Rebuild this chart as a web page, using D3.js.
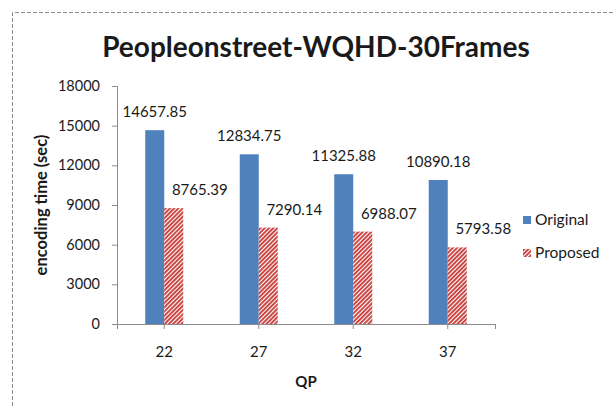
<!DOCTYPE html>
<html>
<head>
<meta charset="utf-8">
<script src="https://cdn.jsdelivr.net/npm/d3@7"></script>
<style>
body { margin:0; background:#fff; }
text { font-family: Lato, "Open Sans", sans-serif; fill:#1a1a1a; }
</style>
</head>
<body>
<div id="chart-area"></div>
<script>
const categories = ["22","27","32","37"]
const seriesNames = ["Original","Proposed"]
const original = [14657.85,12834.75,11325.88,10890.18]
const proposed = [8765.39,7290.14,6988.07,5793.58]
const yTicks = [0,3000,6000,9000,12000,15000,18000]

const W = 615, H = 406
const MARGIN = {LEFT:117, RIGHT:120, TOP:86, BOTTOM:82}
const WIDTH = W - MARGIN.LEFT - MARGIN.RIGHT
const HEIGHT = H - MARGIN.TOP - MARGIN.BOTTOM

const BLUE = "#4F81BD", RED = "#C8403D", AXIS = "#8c8c8c"

const svg = d3.select("#chart-area").append("svg")
	.attr("width",W)
	.attr("height",H)

const defs = svg.append("defs")
const pat = defs.append("pattern")
	.attr("id","hatch")
	.attr("patternUnits","userSpaceOnUse")
	.attr("width",3)
	.attr("height",3)
	.attr("patternTransform","rotate(45)")
pat.append("rect").attr("width",3).attr("height",3).attr("fill","#fff")
pat.append("rect").attr("width",1.9).attr("height",3).attr("fill",RED)

// dashed outer border
svg.append("path")
	.attr("d",`M12.5,${H} V12.5 H${W}`)
	.attr("fill","none")
	.attr("stroke","#8a8a8a")
	.attr("stroke-dasharray","4,2")

svg.append("text")
	.attr("x",316)
	.attr("y",57)
	.attr("text-anchor","middle")
	.attr("font-size","28px")
	.attr("font-weight","bold")
	.text("Peopleonstreet-WQHD-30Frames")

const g = svg.append("g")
	.attr("transform",`translate(${MARGIN.LEFT},${MARGIN.TOP})`)

const x = d3.scaleBand()
	.domain(categories)
	.range([0,WIDTH])

const y = d3.scaleLinear()
	.domain([0,18000])
	.range([HEIGHT,0])

// y axis
const yAxisGroup = g.append("g")
	.call(d3.axisLeft(y).tickValues(yTicks).tickSize(5).tickPadding(12).tickFormat(d=>d))
yAxisGroup.select(".domain").attr("stroke",AXIS)
yAxisGroup.selectAll("line").attr("stroke",AXIS)
yAxisGroup.selectAll("text").attr("font-size","14.5px").attr("font-family","Lato").attr("fill","#1a1a1a")

// x axis
const xAxisGroup = g.append("g")
	.attr("transform",`translate(0,${HEIGHT})`)
	.call(d3.axisBottom(x).tickSize(5).tickPadding(17))
xAxisGroup.select(".domain").attr("stroke",AXIS)
xAxisGroup.selectAll("line").attr("stroke",AXIS)
xAxisGroup.selectAll("text").attr("font-size","15px").attr("font-family","Lato").attr("fill","#1a1a1a")
xAxisGroup.append("line")
	.attr("x1",WIDTH+0.5).attr("x2",WIDTH+0.5)
	.attr("y1",0).attr("y2",5)
	.attr("stroke",AXIS)

const barW = 19
const cols = [
	{vals:original, fill:BLUE, off:-barW, dx:0},
	{vals:proposed, fill:"url(#hatch)", off:0, dx:26}
]

cols.forEach(c=>{
	g.selectAll(null)
		.data(c.vals)
		.enter().append("rect")
		.attr("x",(d,i)=>x(categories[i])+x.bandwidth()/2+c.off)
		.attr("y",d=>y(d))
		.attr("width",barW)
		.attr("height",d=>HEIGHT-y(d))
		.attr("fill",c.fill)

	g.selectAll(null)
		.data(c.vals)
		.enter().append("text")
		.attr("x",(d,i)=>x(categories[i])+x.bandwidth()/2+c.off+barW/2+c.dx)
		.attr("y",d=>y(d)-13)
		.attr("text-anchor","middle")
		.attr("font-size","15px")
		.text(d=>d.toFixed(2))
})

// axis titles
g.append("text")
	.attr("x",WIDTH/2)
	.attr("y",HEIGHT+63)
	.attr("text-anchor","middle")
	.attr("font-size","15px")
	.attr("font-weight","bold")
	.text("QP")

g.append("text")
	.attr("transform","rotate(-90)")
	.attr("x",-(HEIGHT/2))
	.attr("y",-70)
	.attr("text-anchor","middle")
	.attr("font-size","16.5px")
	.attr("font-weight","bold")
	.text("encoding time (sec)")

// legend
const legend = svg.append("g")
	.attr("transform","translate(523,216)")
seriesNames.forEach((name,i)=>{
	const row = legend.append("g")
		.attr("transform",`translate(0,${i*33})`)
	row.append("rect")
		.attr("width",8)
		.attr("height",8)
		.attr("fill",i===0?BLUE:"url(#hatch)")
	row.append("text")
		.attr("x",12)
		.attr("y",9)
		.attr("font-size","15.5px")
		.text(name)
})
</script>
</body>
</html>
